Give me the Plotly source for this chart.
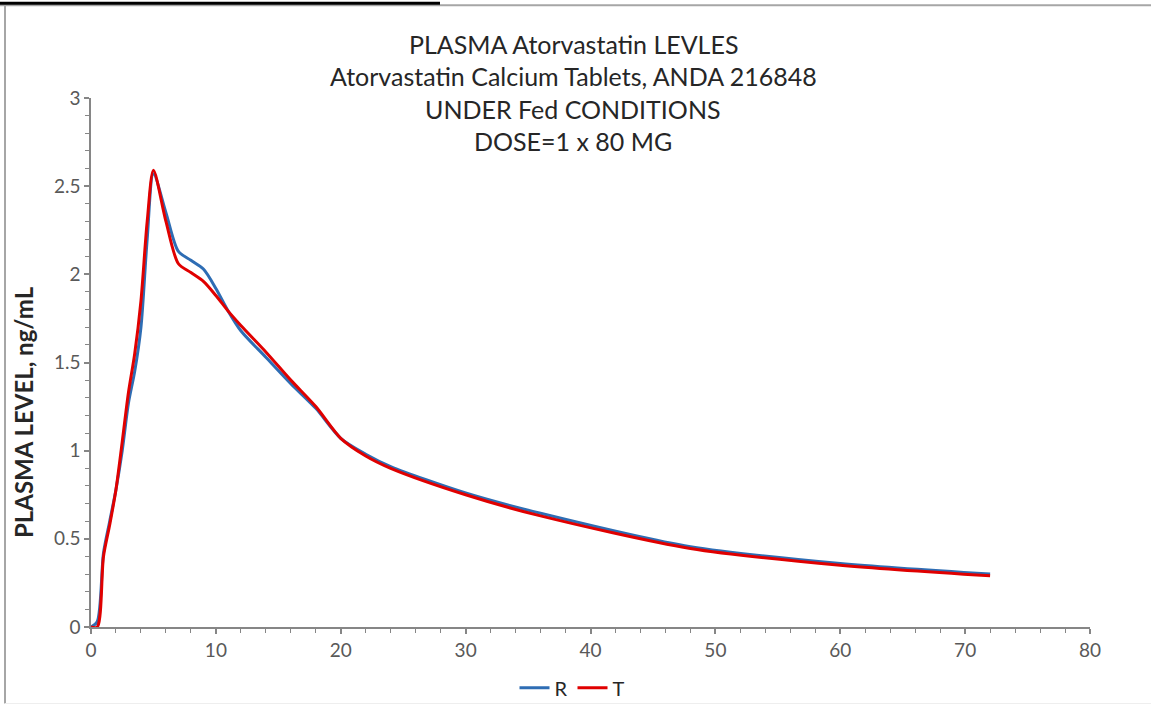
import plotly.graph_objects as go

# Sampling times (h)
time_h = [0, 0.5, 1, 1.5, 2, 2.5, 3, 3.5, 4, 4.5, 5, 6, 7, 8, 9, 10, 11, 12, 14, 16, 18, 20, 22, 24, 30, 36, 48, 60, 72]

# Reference (R) mean plasma levels, ng/mL
r_levels = [0, 0.03, 0.42, 0.60, 0.78, 1.00, 1.27, 1.45, 1.70, 2.20, 2.57, 2.35, 2.13, 2.08, 2.03, 1.92, 1.79, 1.68, 1.53, 1.38, 1.24, 1.07, 0.98, 0.91, 0.76, 0.645, 0.455, 0.36, 0.30]

# Test (T) mean plasma levels, ng/mL
t_levels = [0, 0, 0.40, 0.58, 0.78, 1.05, 1.33, 1.55, 1.85, 2.30, 2.59, 2.30, 2.06, 2.01, 1.96, 1.88, 1.79, 1.71, 1.56, 1.40, 1.25, 1.07, 0.97, 0.90, 0.75, 0.63, 0.445, 0.35, 0.29]

title_lines = [
    "PLASMA Atorvastatin LEVLES",
    "Atorvastatin Calcium Tablets, ANDA 216848",
    "UNDER Fed CONDITIONS",
    "DOSE=1 x 80 MG",
]
y_title = "PLASMA LEVEL, ng/mL"

W, H = 1151, 719
L, R_, T_, B = 91, 61, 98, 82
PW = W - L - R_
PH = H - T_ - B

def px_x(px):
    return (px - L) / PW

def px_y(py):
    return (H - B - py) / PH

FONT = "Lato, Carlito, Calibri, sans-serif"
AX = "#868686"

fig = go.Figure()
fig.add_trace(go.Scatter(x=time_h, y=r_levels, name="R", mode="lines",
                         line=dict(color="#2E6DB4", width=3, shape="spline", smoothing=0.8)))
fig.add_trace(go.Scatter(x=time_h, y=t_levels, name="T", mode="lines",
                         line=dict(color="#E00000", width=3, shape="spline", smoothing=0.8)))

annotations = []
for i, line in enumerate(title_lines):
    annotations.append(dict(text=line, xref="paper", yref="paper", x=px_x(573), y=px_y(43 + 33 * i),
                            xanchor="center", yanchor="middle", showarrow=False,
                            font=dict(family=FONT, size=25, color="#262626")))
annotations.append(dict(text="<b>" + y_title + "</b>", xref="paper", yref="paper", x=px_x(23), y=px_y(418),
                        xanchor="center", yanchor="middle", textangle=-90, showarrow=False,
                        font=dict(family=FONT, size=24, color="#262626")))

shapes = [
    # outer frame
    dict(type="line", xref="paper", yref="paper", x0=px_x(5), x1=px_x(5), y0=px_y(3), y1=px_y(715),
         line=dict(color="#A6A6A6", width=2)),
    dict(type="line", xref="paper", yref="paper", x0=px_x(0), x1=px_x(1151), y0=px_y(3.5), y1=px_y(3.5),
         line=dict(color="#A6A6A6", width=2)),
    dict(type="line", xref="paper", yref="paper", x0=px_x(5), x1=px_x(1151), y0=px_y(715), y1=px_y(715),
         line=dict(color="#EEEEEE", width=1)),
    dict(type="rect", xref="paper", yref="paper", x0=px_x(0), x1=px_x(440), y0=px_y(0), y1=px_y(3),
         fillcolor="black", line=dict(width=0)),
]

fig.update_layout(
    width=W, height=H,
    margin=dict(l=L, r=R_, t=T_, b=B),
    paper_bgcolor="white", plot_bgcolor="white",
    font=dict(family=FONT, size=19, color="#595959"),
    showlegend=True,
    legend=dict(orientation="h", x=px_x(572), xanchor="center", y=px_y(699), yanchor="middle",
                font=dict(family=FONT, size=20, color="#262626"), bgcolor="rgba(0,0,0,0)"),
    annotations=annotations,
    shapes=shapes,
    xaxis=dict(range=[0, 80], dtick=10, tick0=0, showgrid=False, zeroline=False,
               showline=True, linecolor=AX, linewidth=1.5, ticks="outside", ticklen=5, tickcolor=AX,
               tickwidth=1.5,
               minor=dict(dtick=2, ticks="outside", ticklen=4, tickcolor=AX, tickwidth=1),
               tickfont=dict(size=19, color="#595959")),
    yaxis=dict(range=[0, 3], dtick=0.5, tick0=0, showgrid=False, zeroline=False,
               showline=True, linecolor=AX, linewidth=1.5, ticks="outside", ticklen=5, tickcolor=AX,
               tickwidth=1.5,
               minor=dict(dtick=0.1, ticks="outside", ticklen=4, tickcolor=AX, tickwidth=1),
               tickfont=dict(size=19, color="#595959")),
)

fig.write_html("out.html")
